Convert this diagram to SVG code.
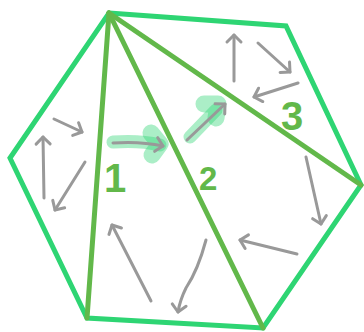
<svg xmlns="http://www.w3.org/2000/svg" width="364" height="332" viewBox="0 0 364 332">
<defs>
<style>
.hex{fill:none;stroke:#2ed573;stroke-width:5;stroke-linejoin:miter}
.diag{fill:none;stroke:#62b84a;stroke-width:5;stroke-linecap:round}
.arr{fill:none;stroke:#999;stroke-width:3;stroke-linecap:round;marker-end:url(#ah)}
.hl{fill:none;stroke:#2ed573;stroke-opacity:0.4;stroke-linecap:round;stroke-linejoin:round}
.lbl{font-family:"Liberation Sans",Arial,sans-serif;font-weight:bold;fill:#62b84a}
</style>
<marker id="ah" markerUnits="userSpaceOnUse" markerWidth="20" markerHeight="20" refX="10" refY="10" orient="auto">
<path d="M3,3 L10,10 L3,17" fill="none" stroke="#999" stroke-width="3" stroke-linecap="round" stroke-linejoin="round"/>
</marker>
</defs>
<g id="hexagon">
<polygon class="hex" points="109,13 286,26 361,185 263,328 87,318 10,158"/>
</g>
<g id="connectors">
<line class="diag" x1="109" y1="13" x2="87" y2="318"/>
<line class="diag" x1="109" y1="13" x2="263" y2="328"/>
<line class="diag" x1="109" y1="13" x2="361" y2="185"/>
</g>
<g id="highlights">
<path class="hl" stroke-width="13" d="M113,142 Q140,140 160,145"/>
<path class="hl" stroke-width="17" d="M151,133 L160,144 L152,155"/>
<path class="hl" stroke-width="13" d="M190,137 L216,110"/>
<path class="hl" stroke-width="17" d="M204,104 L218,104 L216,118"/>
</g>
<g id="arrows">
<path class="arr" d="M54,119 L82,132"/>
<path class="arr" d="M44,198 L43,137"/>
<path class="arr" d="M85,162 L55,210"/>
<path class="arr" d="M113,143 Q140,141 163,146"/>
<path class="arr" d="M187,140 L225,104"/>
<path class="arr" d="M234,81 L234,35"/>
<path class="arr" d="M258,43 L290,72"/>
<path class="arr" d="M298,83 L254,97"/>
<path class="arr" d="M306,157 L321,224"/>
<path class="arr" d="M297,254 L240,240"/>
<path class="arr" d="M151,301 L112,225"/>
<path class="arr" d="M206,240 Q198,270 186,288 Q180,300 178,312"/>
</g>
<g id="labels">
<text class="lbl" x="104" y="192" font-size="40">1</text>
<text class="lbl" x="199" y="190" font-size="33">2</text>
<text class="lbl" x="281" y="130" font-size="40">3</text>
</g>
</svg>
